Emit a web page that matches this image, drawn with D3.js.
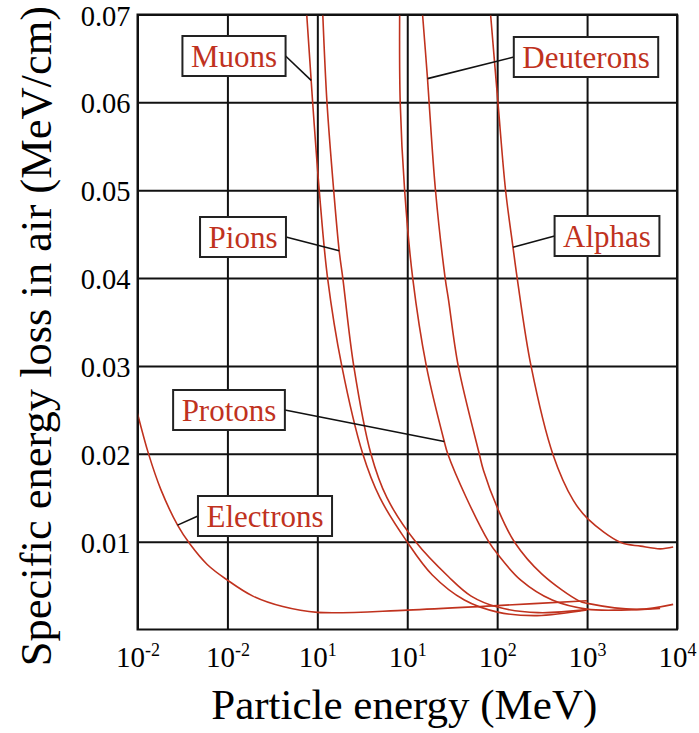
<!DOCTYPE html>
<html>
<head>
<meta charset="utf-8">
<script src="https://cdn.jsdelivr.net/npm/d3@7"></script>
<style>
  body { margin: 0; background: #fff; }
  text { font-family: "Liberation Serif", "Times New Roman", serif; }
</style>
</head>
<body>
<svg id="chart" width="699" height="733"></svg>
<script>
// Specific energy loss in air vs. particle energy.
// Each series: [energy in MeV, loss in MeV/cm]
const electrons = [[0.01,0.0246],[0.0133,0.01996],[0.0182,0.01592],[0.0279,0.01188],[0.0383,0.00972],[0.06,0.00737],[0.1,0.00562],[0.192,0.0038],[0.413,0.00261],[1,0.00195],[10,0.00221],[100,0.00272],[1000,0.00327]];
const muons = [[0.762,0.07],[0.854,0.0625],[0.887,0.06],[1.05,0.05],[1.30,0.04],[1.87,0.03],[3.20,0.02],[4.96,0.015],[9.93,0.01],[19.0,0.0062],[43.2,0.00335],[101,0.00198],[278,0.00158],[993,0.00221]];
const pions = [[1.15,0.07],[1.28,0.06],[1.52,0.05],[1.75,0.0431],[1.92,0.04],[2.54,0.03],[3.94,0.02],[5.94,0.015],[12.4,0.00998],[28.8,0.006],[51.4,0.0038],[101,0.00255],[285,0.00192],[993,0.00226]];
const protons = [[8.23,0.07],[8.35,0.06],[9.35,0.05],[11.5,0.04],[16.3,0.03],[25.8,0.0214],[28.2,0.02],[45.4,0.015],[80.5,0.01],[101,0.00858],[183,0.00562],[410,0.00335],[990,0.00232],[2380,0.00221],[6490,0.0024]];
const deuterons = [[14.8,0.07],[16.8,0.0627],[17.5,0.06],[20.6,0.05],[26.4,0.04],[28.8,0.0375],[36.9,0.03],[63.2,0.02],[70.5,0.0181],[101,0.0138],[157,0.0099],[315,0.0063],[822,0.00323],[1010,0.00297],[3620,0.00229],[9060,0.00286]];
const alphas = [[84.5,0.07],[102,0.06],[124,0.05],[150,0.0435],[168,0.0398],[238,0.03],[418,0.0199],[703,0.0147],[1020,0.0126],[2380,0.0099],[3940,0.00949],[6490,0.00918],[9060,0.00938]];

const seriesNames = ["Electrons","Muons","Pions","Protons","Deuterons","Alphas"];

// Axis ticks
const xTickValues = [0.01, 0.1, 1, 10, 100, 1000, 10000];
const xTickBase = ["10","10","10","10","10","10","10"];
const xTickExp = ["-2","-2","1","1","2","3","4"];
const yTickValues = [0.01, 0.02, 0.03, 0.04, 0.05, 0.06, 0.07];

const xTitle = "Particle energy (MeV)";
const yTitle = "Specific energy loss in air (MeV/cm)";

// Which point of each curve the callout leader touches
const calloutPointIndex = [3, 1, 3, 5, 1, 3];

// Callout box centres (layout)
const calloutLayout = {
  Electrons: { cx: 265, cy: 516 },
  Muons:     { cx: 234, cy: 56 },
  Pions:     { cx: 243, cy: 237 },
  Protons:   { cx: 229, cy: 410 },
  Deuterons: { cx: 586, cy: 57 },
  Alphas:    { cx: 607, cy: 236 }
};

const RED = "#c0321e";
const series = [electrons, muons, pions, protons, deuterons, alphas]
  .map((values, i) => ({ name: seriesNames[i], values, target: values[calloutPointIndex[i]] }));

const svg = d3.select("#chart");
const plotLeft = 137.5, plotRight = 677, plotTop = 14.5, plotBottom = 629.5;

const x = d3.scaleLog().domain([1e-2, 1e4]).range([plotLeft, plotRight]);
const y = d3.scaleLinear().domain([0, 0.07]).range([plotBottom, plotTop]);

// Grid lines via axes
const yAxis = svg.append("g")
  .attr("transform", `translate(${plotLeft},0)`)
  .call(d3.axisLeft(y).tickValues(yTickValues)
    .tickSize(-(plotRight - plotLeft)).tickPadding(7)
    .tickFormat(d3.format(".2f")));
yAxis.select(".domain").remove();
yAxis.selectAll("line").attr("stroke", "#111").attr("stroke-width", 2);
yAxis.selectAll("text")
  .attr("dy", null).attr("y", 10.5)
  .attr("font-size", 28.5).attr("fill", "#000")
  .attr("font-family", "Liberation Serif, serif");

const xAxis = svg.append("g")
  .attr("transform", `translate(0,${plotBottom})`)
  .call(d3.axisBottom(x).tickValues(xTickValues)
    .tickSize(-(plotBottom - plotTop)).tickFormat(() => ""));
xAxis.select(".domain").remove();
xAxis.selectAll("line").attr("stroke", "#111").attr("stroke-width", 2);
xAxis.selectAll(".tick text")
  .attr("y", 37).attr("dy", null)
  .attr("font-size", 29).attr("fill", "#000")
  .attr("font-family", "Liberation Serif, serif")
  .each(function (d, i) {
    const t = d3.select(this);
    t.append("tspan").text(xTickBase[i]);
    t.append("tspan").attr("dy", -11).attr("font-size", 18).text(xTickExp[i]);
  });

// Curves
svg.append("clipPath").attr("id", "plot-clip")
  .append("rect").attr("x", plotLeft).attr("y", plotTop)
  .attr("width", plotRight - plotLeft).attr("height", plotBottom - plotTop);

const line = d3.line()
  .x(d => x(d[0])).y(d => y(d[1]))
  .curve(d3.curveCatmullRom.alpha(0.5));

svg.append("g").attr("clip-path", "url(#plot-clip)")
  .selectAll("path").data(series).join("path")
  .attr("d", d => line(d.values))
  .attr("fill", "none")
  .attr("stroke", RED)
  .attr("stroke-width", 1.6);

// Frame
svg.append("rect")
  .attr("x", plotLeft).attr("y", plotTop)
  .attr("width", plotRight - plotLeft).attr("height", plotBottom - plotTop)
  .attr("fill", "none").attr("stroke", "#111").attr("stroke-width", 2);

// Callouts
const callouts = svg.append("g");
series.forEach(s => {
  const pos = calloutLayout[s.name];
  const g = callouts.append("g");
  const label = g.append("text")
    .attr("x", pos.cx).attr("y", pos.cy)
    .attr("dy", "0.34em")
    .attr("text-anchor", "middle")
    .attr("font-size", 31)
    .attr("fill", RED)
    .text(s.name);
  const w = label.node().getComputedTextLength() + 17;
  const h = 40;
  const tx = x(s.target[0]), ty = y(s.target[1]);
  const sx = tx > pos.cx ? pos.cx + w / 2 : pos.cx - w / 2;
  g.insert("line", "text")
    .attr("x1", sx).attr("y1", pos.cy)
    .attr("x2", tx).attr("y2", ty)
    .attr("stroke", "#111").attr("stroke-width", 1.6);
  g.insert("rect", "text")
    .attr("x", pos.cx - w / 2).attr("y", pos.cy - h / 2)
    .attr("width", w).attr("height", h)
    .attr("fill", "#fff").attr("stroke", "#222").attr("stroke-width", 2);
});

// Axis titles
svg.append("text")
  .attr("x", (plotLeft + plotRight) / 2 - 3).attr("y", 719)
  .attr("text-anchor", "middle")
  .attr("font-size", 43)
  .attr("fill", "#000")
  .text(xTitle);

svg.append("text")
  .attr("transform", "translate(51,336) rotate(-90)")
  .attr("text-anchor", "middle")
  .attr("font-size", 44.5)
  .attr("fill", "#000")
  .text(yTitle);
</script>
</body>
</html>
